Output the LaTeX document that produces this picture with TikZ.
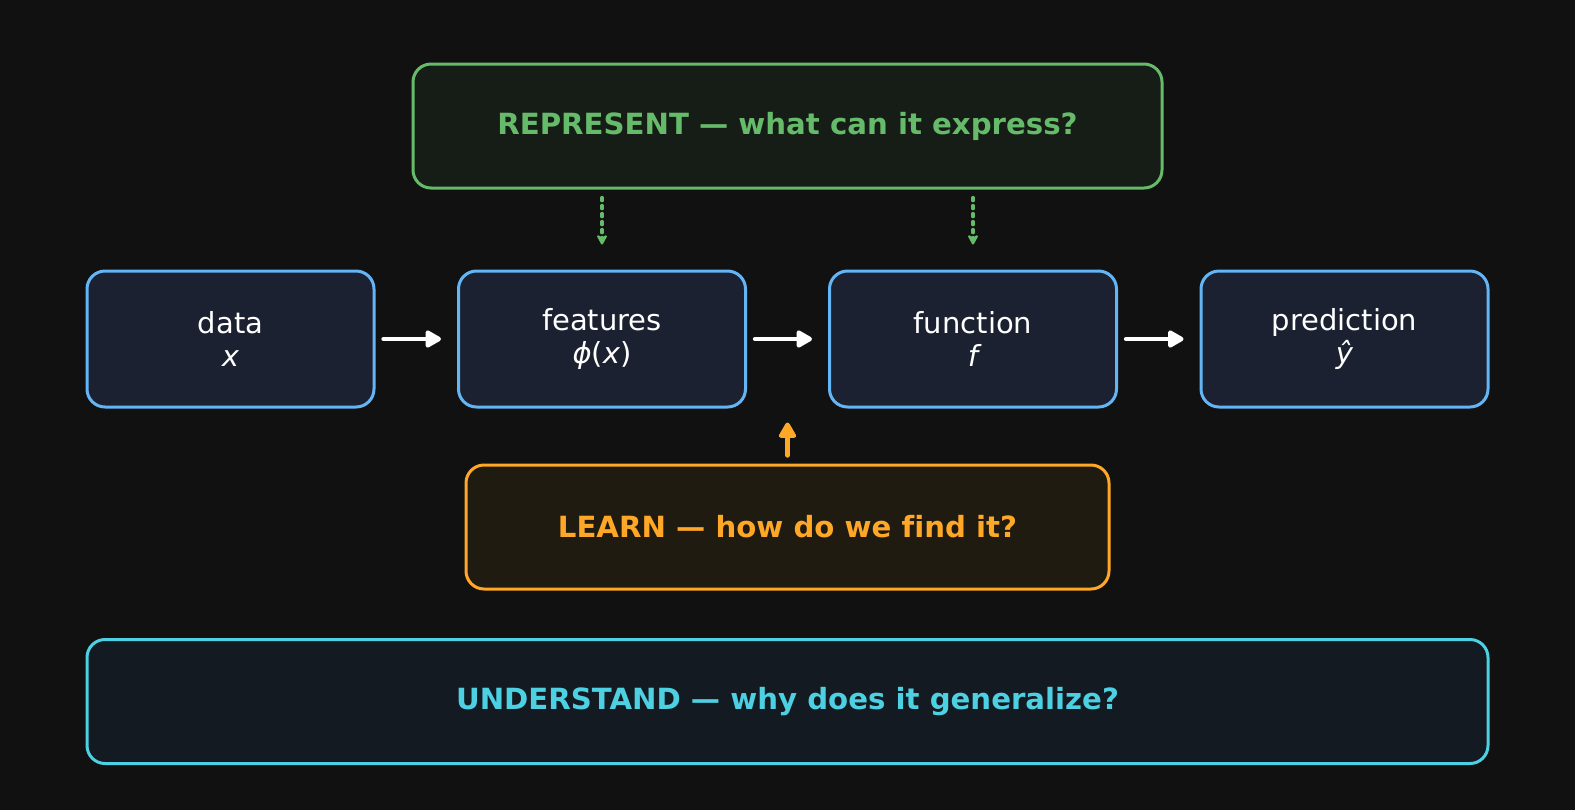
\documentclass[tikz,border=0pt]{standalone}
\usepackage{fontspec}
\setmainfont{DejaVu Sans}[Ligatures=NoCommon]
\usetikzlibrary{arrows.meta}

\definecolor{bgcol}{HTML}{111111}
\definecolor{stagefill}{HTML}{1B2130}
\definecolor{stageline}{HTML}{64B5F6}
\definecolor{repline}{HTML}{66BB6A}
\definecolor{repfill}{HTML}{161C16}
\definecolor{learnline}{HTML}{FFA726}
\definecolor{learnfill}{HTML}{1F1B11}
\definecolor{undline}{HTML}{4DD0E1}
\definecolor{undfill}{HTML}{131A21}

\tikzset{
  stage/.style={draw=stageline, fill=stagefill, line width=1.5pt, rounded corners=9pt,
    minimum width=143.5pt, minimum height=68pt, align=center, text=white,
    font=\fontsize{14.5}{16.5}\selectfont},
  banner/.style={line width=1.5pt, rounded corners=9pt, minimum height=62pt,
    font=\fontsize{14.6}{16.5}\selectfont\bfseries},
  flow/.style={draw=white, line width=2.2pt, line cap=round, -{Triangle[length=9pt,width=9.5pt,round]},
    shorten <=4pt, shorten >=8pt},
  hint/.style={draw=repline, line width=1.6pt, line cap=round, dash pattern=on 1.6pt off 2.4pt,
    -{Stealth[length=6pt,width=6.5pt,round]}, shorten <=4pt, shorten >=12.5pt},
}

\begin{document}
\begin{tikzpicture}[x=0.5pt,y=0.5pt,yscale=-1,xscale=1]
%set diagram size to 1575 x 810
\fill [bgcol] (0,0) rectangle (1575,810);
\useasboundingbox (0,0) rectangle (1575,810);

% Top banner
\node [banner, draw=repline, fill=repfill, text=repline, minimum width=374.5pt] (represent) at (787.5,126) {REPRESENT — what can it express?};

% Pipeline stages
\node [stage] (data) at (230.5,339) {data\\{\itshape x}};
\node [stage] (features) at (602,339) {features\\{\itshape ϕ}({\itshape x})};
\node [stage] (function) at (973,339) {function\\{\itshape f}};
\node [stage] (prediction) at (1344.5,339) {prediction\\{\itshape ŷ}};

% Bottom banners
\node [banner, draw=learnline, fill=learnfill, text=learnline, minimum width=321.5pt] (learn) at (787.5,527) {LEARN — how do we find it?};
\node [banner, draw=undline, fill=undfill, text=undline, minimum width=700.5pt] (understand) at (787.5,701.5) {UNDERSTAND — why does it generalize?};

% Flow arrows
\draw [flow] (data) -- (features);
\draw [flow] (features) -- (function);
\draw [flow] (function) -- (prediction);

% Represent hints
\draw [hint] (represent.south -| features) -- (features.north);
\draw [hint] (represent.south -| function) -- (function.north);

% Learn hint
\draw [flow, draw=learnline, fill=learnline, shorten <=4pt, shorten >=7pt] (learn.north) -- (learn.north |- features.south);

\end{tikzpicture}
\end{document}
